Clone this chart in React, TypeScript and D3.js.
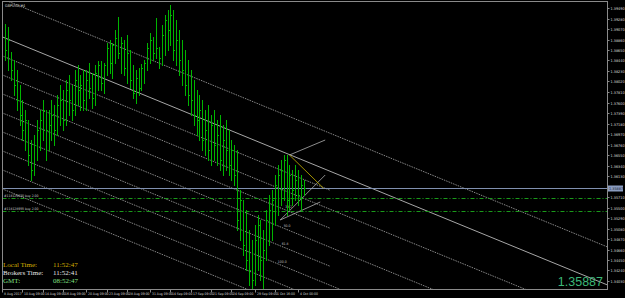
import React from "react";
import * as d3 from "d3";

const W = 625;
const H = 298;

// OHLC bars (GBPUSD,H4)
const opens = [
  1.3905, 1.3865, 1.3855, 1.3825, 1.3795, 1.3765, 1.3735, 1.3705, 1.3715, 1.3655, 1.3625, 1.3675, 1.3705, 1.3725,
  1.3735, 1.3705, 1.3715, 1.3735, 1.3705, 1.3755, 1.3765, 1.3725, 1.3785, 1.3765, 1.3745, 1.3805, 1.3785, 1.3795, 1.3765, 1.3805, 1.379, 1.377, 1.382,
  1.383, 1.38, 1.3835, 1.387, 1.384, 1.3875, 1.389, 1.386, 1.388, 1.383,
  1.386, 1.3805, 1.378, 1.381, 1.379, 1.383, 1.384,
  1.387, 1.3885, 1.386, 1.3865, 1.385, 1.3895, 1.3925, 1.3905, 1.3935, 1.3865, 1.3885, 1.3845,
  1.3825, 1.3795, 1.3775, 1.3765, 1.3735, 1.3725, 1.3745, 1.3685, 1.3705, 1.3665, 1.3715, 1.3675, 1.3695, 1.3645, 1.3685, 1.3665, 1.3635, 1.3665, 1.3615, 1.3525, 1.3565,
  1.3475, 1.3445, 1.3425, 1.3405, 1.3485, 1.3515, 1.3445, 1.3465, 1.3525, 1.3545, 1.3565, 1.3595,
  1.3615, 1.3625, 1.3645, 1.3565, 1.3615, 1.3585, 1.3605, 1.3575, 1.3595,
];
const highs = [
  1.3917, 1.3911, 1.3861, 1.3845, 1.3825, 1.3795, 1.3765, 1.3745, 1.3725, 1.3685, 1.3695, 1.3725, 1.3745, 1.3765,
  1.3745, 1.3745, 1.3765, 1.3755, 1.3775, 1.3795, 1.3785, 1.3805, 1.3815, 1.3795, 1.3825, 1.3835, 1.3815, 1.3825, 1.3825, 1.384, 1.382, 1.3835, 1.3843,
  1.3842, 1.384, 1.3879, 1.3885, 1.388, 1.3905, 1.3931, 1.3891, 1.3885, 1.3895,
  1.3865, 1.3835, 1.3825, 1.383, 1.3838, 1.3845, 1.3879,
  1.3899, 1.3891, 1.3929, 1.3871, 1.3915, 1.3935, 1.3945, 1.3955, 1.3945, 1.3925, 1.3905, 1.3885,
  1.3865, 1.3845, 1.3825, 1.3805, 1.3785, 1.3775, 1.3765, 1.3745, 1.3755, 1.3735, 1.3745, 1.3725, 1.3735, 1.3715, 1.3725, 1.3705, 1.3685, 1.3675, 1.3665, 1.3585, 1.3565,
  1.3545, 1.3505, 1.3485, 1.3515, 1.3535, 1.3525, 1.3505, 1.3545, 1.3575, 1.3585, 1.3615, 1.3635,
  1.3645, 1.3655, 1.3655, 1.3635, 1.3625, 1.3635, 1.3625, 1.3615, 1.3605,
];
const lows = [
  1.3845, 1.3825, 1.3805, 1.3775, 1.3745, 1.3715, 1.3685, 1.3665, 1.3635, 1.3605, 1.3615, 1.3645, 1.3665, 1.3685,
  1.3645, 1.3665, 1.3685, 1.3675, 1.3695, 1.3715, 1.3705, 1.3715, 1.3735, 1.3725, 1.3735, 1.3755, 1.3745, 1.3745, 1.3745, 1.377, 1.375, 1.3755, 1.3785,
  1.3785, 1.378, 1.3815, 1.382, 1.381, 1.384, 1.385, 1.382, 1.3815, 1.38,
  1.379, 1.377, 1.376, 1.3775, 1.3785, 1.38, 1.3825,
  1.384, 1.3845, 1.385, 1.383, 1.3835, 1.3855, 1.3865, 1.3875, 1.3845, 1.3835, 1.3815, 1.3795,
  1.3775, 1.3755, 1.3735, 1.3715, 1.3695, 1.3685, 1.3665, 1.3655, 1.3645, 1.3635, 1.3645, 1.3635, 1.3625, 1.3615, 1.3625, 1.3615, 1.3605, 1.3595, 1.3505, 1.3485, 1.3455,
  1.3425, 1.3395, 1.3385, 1.3395, 1.3425, 1.3405, 1.3389, 1.3445, 1.3475, 1.3485, 1.3515, 1.3535,
  1.3555, 1.3565, 1.3535, 1.3545, 1.3555, 1.3565, 1.3555, 1.3545, 1.3575,
];
const closes = [
  1.3865, 1.3885, 1.3825, 1.3795, 1.3765, 1.3735, 1.3705, 1.3725, 1.3655, 1.3625, 1.3675, 1.3705, 1.3725, 1.3745,
  1.3705, 1.3715, 1.3735, 1.3705, 1.3755, 1.3765, 1.3725, 1.3785, 1.3765, 1.3745, 1.3805, 1.3785, 1.3795, 1.3765, 1.3805, 1.379, 1.377, 1.382, 1.3835,
  1.38, 1.3835, 1.387, 1.384, 1.3875, 1.389, 1.386, 1.388, 1.383, 1.386,
  1.3805, 1.378, 1.381, 1.379, 1.383, 1.384, 1.387,
  1.3885, 1.386, 1.387, 1.385, 1.3895, 1.3925, 1.3905, 1.3935, 1.3865, 1.3885, 1.3845, 1.3825,
  1.3795, 1.3775, 1.3765, 1.3735, 1.3725, 1.3745, 1.3685, 1.3705, 1.3665, 1.3715, 1.3675, 1.3695, 1.3645, 1.3685, 1.3665, 1.3635, 1.3665, 1.3615, 1.3525, 1.3565, 1.3475,
  1.3445, 1.3425, 1.3405, 1.3485, 1.3515, 1.3445, 1.3465, 1.3525, 1.3545, 1.3565, 1.3595, 1.3615,
  1.3625, 1.3645, 1.3565, 1.3615, 1.3585, 1.3605, 1.3575, 1.3595, 1.35887,
];

const priceTicks = [
  1.3949, 1.3928, 1.3907, 1.3886, 1.3865, 1.3844, 1.3823, 1.3802, 1.3781, 1.376, 1.3739, 1.3718, 1.3697, 1.3676,
  1.3655, 1.3634, 1.3613, 1.3592, 1.3571, 1.355, 1.3529, 1.3508, 1.3487, 1.3466, 1.3445, 1.3424, 1.3403,
];
const dateLabels = [
  "8 Aug 2017", "10 Aug 09:00", "14 Aug 09:00", "16 Aug 09:00", "20 Aug 09:00", "23 Aug 09:00", "28 Aug 09:00",
  "31 Aug 09:00", "14 Sep 09:00", "17 Sep 09:00", "21 Sep 09:00", "24 Sep 09:00", "29 Sep 09:00", "1 Oct 16:00", "4 Oct 00:00",
];
const dateBars = [-1, 6, 13, 20, 28, 35, 42, 50, 57, 64, 71, 78, 86, 93, 101];

const lastPrice = 1.35887;
const orderLevels = [1.35684, 1.35424];
const orderLabels = ["#118129030 buy 2.00", "#118128955 buy 2.00"];

// parallel channel lines: price at bar 0, common slope per bar, last bar reached
const channelStarts = [1.3965, 1.3889, 1.3851, 1.3813, 1.3775, 1.3737, 1.3699, 1.3661, 1.3623, 1.3585];
const channelSolid = [false, true, false, false, false, false, false, false, false, false];
const channelEnd = [260, 260, 112, 260, 112, 260, 112, 260, 112, 260];
const channelSlope = -0.000238;
const fiboTexts = ["38.2", "50.0", "61.8", "100.0"];
const fiboBars = [96.5, 96, 95.3, 94];
const fiboPrices = [1.3549, 1.3511, 1.3475, 1.3439];

// fan / pitchfork segments: [bar1, price1, bar2, price2]
const fanSegments = [
  [98, 1.3655, 110.3, 1.3685],
  [94.8, 1.3525, 110.3, 1.3615],
  [94.8, 1.3525, 108.6, 1.3561],
];
const yellowSegment = [98, 1.3655, 109.7, 1.35887];

const clockLabels = ["Local Time:", "Brokers Time:", "GMT:"];
const clockValues = ["11:52:47", "11:52:41", "08:52:47"];
const clockColors = ["#d4b000", "#e6e6e6", "#80e080"];

const frame = { left: 2.5, right: 607.5, top: 1.5, bottom: 289.5 };

export default function App() {
  const n = opens.length;
  const x = d3.scaleLinear().domain([0, n - 1]).range([5, 304]);
  const y = d3.scaleLinear().domain([1.3965, 1.3385]).range([0, 290]);
  const px = (v: number) => Math.round(x(v)) + 0.5;
  const py = (v: number) => Math.round(y(v)) + 0.5;

  const chanLine = (p0: number, end: number) => {
    const b0 = -5;
    return [x(b0), y(p0 + channelSlope * b0), x(end), y(p0 + channelSlope * end)];
  };

  const axisFont = { fontFamily: "DejaVu Sans Condensed, DejaVu Sans, sans-serif", fontSize: 3.4 } as const;
  const priceFont = { fontFamily: "DejaVu Sans Condensed, DejaVu Sans, sans-serif", fontSize: 3.8 } as const;

  return (
    <svg
      width={W}
      height={H}
      style={{ position: "absolute", left: 0, top: 0, display: "block", background: "#000" }}
    >
      <rect x={0} y={0} width={W} height={H} fill="#000" />
      <defs>
        <clipPath id="plot">
          <rect x={frame.left} y={frame.top} width={frame.right - frame.left} height={frame.bottom - frame.top} />
        </clipPath>
      </defs>

      <g clipPath="url(#plot)">
        {channelStarts.map((p0, i) => {
          const [x1, y1, x2, y2] = chanLine(p0, channelEnd[i]);
          return (
            <line
              key={"c" + i}
              x1={x1}
              y1={y1}
              x2={x2}
              y2={y2}
              stroke={channelSolid[i] ? "#d0d0d0" : "#a8a8a8"}
              strokeWidth={0.8}
              strokeDasharray={channelSolid[i] ? undefined : "1.5,1"}
            />
          );
        })}

        <line x1={frame.left} x2={frame.right} y1={py(lastPrice)} y2={py(lastPrice)} stroke="#8090b0" strokeWidth={1} />

        {orderLevels.map((p, i) => (
          <g key={"o" + i}>
            <line
              x1={frame.left}
              x2={frame.right}
              y1={py(p)}
              y2={py(p)}
              stroke="#1a9a1a"
              strokeWidth={1}
              strokeDasharray="4,2,1,2"
            />
            <text x={4} y={py(p) - 1.5} fill="#d0d0d0" style={axisFont}>
              {orderLabels[i]}
            </text>
          </g>
        ))}

        {fanSegments.map((s, i) => (
          <line key={"f" + i} x1={x(s[0])} y1={y(s[1])} x2={x(s[2])} y2={y(s[3])} stroke="#b0b0b0" strokeWidth={0.8} />
        ))}
        <line
          x1={x(yellowSegment[0])}
          y1={y(yellowSegment[1])}
          x2={x(yellowSegment[2])}
          y2={y(yellowSegment[3])}
          stroke="#c8b400"
          strokeWidth={0.8}
        />
        {fiboTexts.map((t, i) => (
          <text key={"fb" + i} x={x(fiboBars[i])} y={y(fiboPrices[i])} fill="#c0c0c0" style={axisFont}>
            {t}
          </text>
        ))}

        {opens.map((o, i) => {
          const cx = px(i);
          return (
            <g key={"b" + i} stroke="#00b400" strokeWidth={1} shapeRendering="crispEdges">
              <line x1={cx} x2={cx} y1={Math.round(y(highs[i]))} y2={Math.round(y(lows[i])) + 1} />
              <line x1={cx - 1} x2={cx} y1={py(o)} y2={py(o)} />
              <line x1={cx} x2={cx + 1} y1={py(closes[i])} y2={py(closes[i])} />
            </g>
          );
        })}
      </g>

      <rect
        x={frame.left}
        y={frame.top}
        width={frame.right - frame.left}
        height={frame.bottom - frame.top}
        fill="none"
        stroke="#8a8a8a"
        strokeWidth={1}
      />

      <text x={5} y={6.5} fill="#d8d8d8" style={priceFont}>
        GBPUSD,H4
      </text>

      {priceTicks
        .filter((p) => Math.abs(y(p) - y(lastPrice)) > 4)
        .map((p, i) => (
          <g key={"pt" + i}>
            <line x1={frame.right} x2={frame.right + 2} y1={py(p)} y2={py(p)} stroke="#8a8a8a" />
            <text x={610.5} y={py(p) + 1.4} fill="#d8d8d8" style={priceFont}>
              {p.toFixed(5)}
            </text>
          </g>
        ))}
      <rect x={608} y={py(lastPrice) - 3} width={15} height={6} fill="#8a9cc0" />
      <text x={609} y={py(lastPrice) + 1.4} fill="#1a2030" style={priceFont}>
        {lastPrice.toFixed(5)}
      </text>

      {dateLabels.map((t, i) => (
        <g key={"d" + i}>
          <line x1={px(dateBars[i])} x2={px(dateBars[i])} y1={frame.bottom} y2={frame.bottom + 3} stroke="#8a8a8a" />
          <text x={px(dateBars[i]) + 1.5} y={295} fill="#d8d8d8" style={axisFont}>
            {t}
          </text>
        </g>
      ))}

      {clockLabels.map((t, i) => (
        <g key={"cl" + i} style={{ fontFamily: "Liberation Serif, serif", fontSize: 7 }}>
          <text x={3} y={266.5 + i * 8.4} fill={clockColors[i]}>
            {t}
          </text>
          <text x={53} y={266.5 + i * 8.4} fill={clockColors[i]}>
            {clockValues[i]}
          </text>
        </g>
      ))}

      <text
        x={603}
        y={286}
        textAnchor="end"
        fill="#3cb878"
        style={{ fontFamily: "Liberation Sans, Arial, sans-serif", fontSize: 12.5 }}
      >
        {lastPrice.toFixed(5)}
      </text>
    </svg>
  );
}
